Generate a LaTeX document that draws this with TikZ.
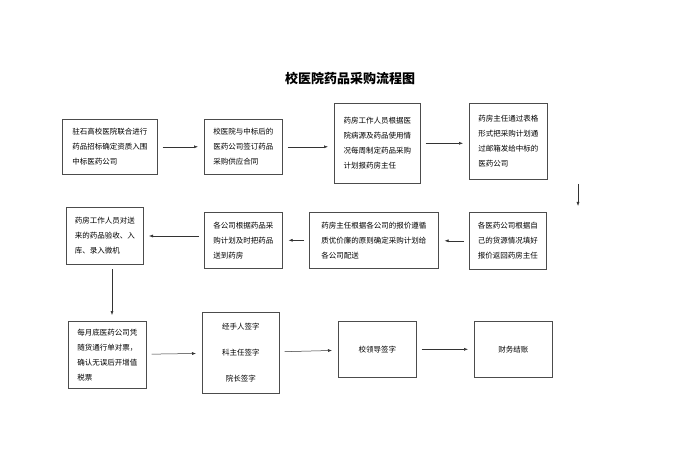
\documentclass[tikz,border=0pt]{standalone}
\usepackage{fontspec}
\setmainfont{Noto Sans CJK SC}
\usetikzlibrary{arrows.meta, positioning}

\tikzset{
  procbox/.style={draw=black!70, line width=0.6pt, anchor=north west, align=left,
    inner sep=4pt, font=\fontsize{7.5}{15}\selectfont},
  flow/.style={-{Latex[length=4pt,width=3pt]}, black!80, line width=0.5pt,
    shorten <=5pt, shorten >=6pt}
}

\begin{document}
\begin{tikzpicture}[x=1pt, y=-1pt]
  % Page frame
  \useasboundingbox[fill=white] (0,0) rectangle (700,470);

  % Title
  \node[font=\fontsize{13}{13}\selectfont\bfseries] (title) at (350,78) {校医院药品采购流程图};

  % First row
  \node[procbox, minimum width=95, minimum height=55] (bid) at (62,119)
    {驻石高校医院联合进行\\药品招标确定资质入围\\中标医药公司};
  \node[procbox, minimum width=78, minimum height=55] (contract) at (204,119)
    {校医院与中标后的\\医药公司签订药品\\采购供应合同};
  \node[procbox, minimum width=86, minimum height=80] (plan) at (334,103)
    {药房工作人员根据医\\院病源及药品使用情\\况每周制定药品采购\\计划报药房主任};
  \node[procbox, minimum width=78, minimum height=76] (mail) at (469,103)
    {药房主任通过表格\\形式把采购计划通\\过邮箱发给中标的\\医药公司};

  % Second row
  \node[procbox, minimum width=77, minimum height=57] (quote) at (469,212)
    {各医药公司根据自\\己的货源情况填好\\报价返回药房主任};
  \node[procbox, minimum width=129, minimum height=56] (choose) at (309,212)
    {药房主任根据各公司的报价遵循\\质优价廉的原则确定采购计划给\\各公司配送};
  \node[procbox, minimum width=78, minimum height=56] (deliver) at (204,212)
    {各公司根据药品采\\购计划及时把药品\\送到药房};
  \node[procbox, minimum width=77, minimum height=57] (check) at (66,207)
    {药房工作人员对送\\来的药品验收、入\\库、录入微机};

  % Third row
  \node[procbox, minimum width=78, minimum height=67] (invoice) at (68,321)
    {每月底医药公司凭\\随货通行单对票，\\确认无误后开增值\\税票};
  \node[procbox, minimum width=77, minimum height=81, align=center,
    font=\fontsize{7.5}{26}\selectfont] (sign) at (202,312)
    {经手人签字\\科主任签字\\院长签字};
  \node[procbox, minimum width=78, minimum height=56, align=center] (leader) at (338,321) {校领导签字};
  \node[procbox, minimum width=78, minimum height=56, align=center] (finance) at (474,321) {财务结账};

  % Connector ends
  \coordinate (mailout) at (578,179);
  \coordinate (quotein) at (578,212);
  \coordinate (deliverout) at (204,236);
  \coordinate (checkin) at (143,236);
  \coordinate (checkout) at (112,264);
  \coordinate (invoicein) at (112,321);

  % Connectors
  \draw[flow] (bid) -- (contract);
  \draw[flow] (contract) -- (contract -| plan.west);
  \draw[flow] (plan) -- (plan -| mail.west);
  \draw[flow] (mailout) -- (quotein);
  \draw[flow] (quote) -- (quote -| choose.east);
  \draw[flow] (choose) -- (deliver);
  \draw[flow] (deliverout) -- (checkin);
  \draw[flow] (checkout) -- (invoicein);
  \draw[flow] (invoice) -- (sign);
  \draw[flow] (sign) -- (leader);
  \draw[flow] (leader) -- (finance);
\end{tikzpicture}
\end{document}
